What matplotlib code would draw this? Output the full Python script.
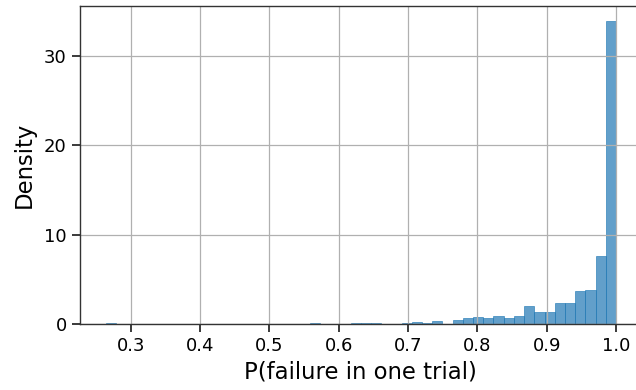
import numpy as np
import matplotlib
matplotlib.use("Agg")
import matplotlib.pyplot as plt

# histogram of P(failure in one trial), density per bin (50 bins)
x_min = 0.2636
x_max = 1.0
n_bins = 50
density = [
    0.07, 0, 0, 0, 0, 0, 0, 0, 0, 0,
    0, 0, 0, 0, 0, 0.05, 0.05, 0, 0, 0.05,
    0.15, 0.05, 0, 0, 0.12, 0.12, 0.12, 0.05, 0.05, 0.15,
    0.26, 0.10, 0.37, 0.05, 0.49, 0.71, 0.82, 0.71, 0.94, 0.71,
    0.94, 2.06, 1.38, 1.38, 2.39, 2.39, 3.74, 3.85, 7.60, 33.94,
]
xticks = [0.3, 0.4, 0.5, 0.6, 0.7, 0.8, 0.9, 1.0]
yticks = [0, 10, 20, 30]

edges = np.linspace(x_min, x_max, n_bins + 1)
centers = (edges[:-1] + edges[1:]) / 2

fig = plt.figure(figsize=(6.36, 3.9), dpi=100)
ax = fig.add_axes([80 / 636, 66 / 390, 561.5 / 636, 318.3 / 390])

ax.hist(centers, bins=edges, weights=density, color="#1f77b4", alpha=0.7,
        edgecolor="#1f77b4", linewidth=0.6)

ax.set_xlim(x_min - 0.05 * (x_max - x_min), x_max + 0.05 * (x_max - x_min))
ax.set_ylim(0, max(density) * 1.05)
ax.set_xticks(xticks)
ax.set_xticklabels([f"{t:.1f}" for t in xticks])
ax.set_yticks(yticks)
ax.grid(True, color="#b0b0b0", linewidth=0.9)

for s in ax.spines.values():
    s.set_color("#333333")
    s.set_linewidth(1.0)
ax.tick_params(labelsize=13, length=6, width=1.25, color="#222222")
ax.set_xlabel("P(failure in one trial)", fontsize=16.4, labelpad=4)
ax.set_ylabel("Density", fontsize=16.4, labelpad=6)

fig.savefig("out.png", dpi=100)
